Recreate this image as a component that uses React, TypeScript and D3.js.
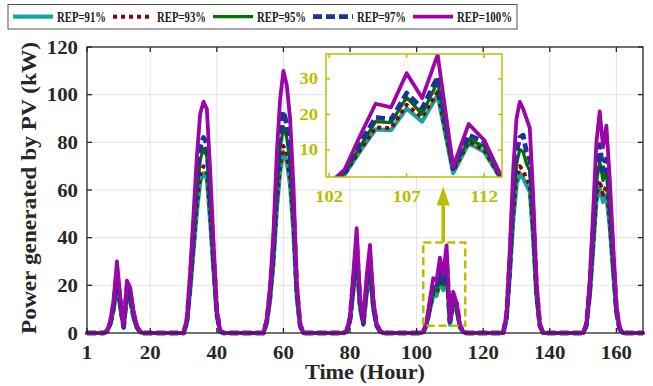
import React from 'react';
import * as d3 from 'd3';

// ---------- data ----------
const HOURS = d3.range(1, 169);
const X_TICKS = [1, 20, 40, 60, 80, 100, 120, 140, 160];
const Y_TICKS = [0, 20, 40, 60, 80, 100, 120];
const INSET_X_TICKS = [102, 107, 112];
const INSET_Y_TICKS = [10, 20, 30];
const SERIES_NAMES = ['REP=91%', 'REP=93%', 'REP=95%', 'REP=97%', 'REP=100%'];

const REP91 = [
  0,0,0,0,0,0,0.7,3.5,9.7,20.7,10.4,2.1,15.2,13.1,6.2,2.1,0.3,0,0,0,0,0,0,0,
  0,0,0,0,0,0,4.1,17.9,34.5,51,63.5,67,64.9,46.9,26.2,6.9,0.7,0,0,0,0,0,0,0,
  0,0,0,0,0,0,4.1,13.8,29,51.8,67.6,76,71.8,62.1,42.8,15.2,2.8,0,0,0,0,0,0,0,
  0,0,0,0,0,0,0.7,4.8,17.3,30.4,10.4,3.5,16.6,25.5,9.7,2.8,0.7,0,0,0,0,0,0,0,
  0,0,0,0,0,0.3,3.1,9.7,15.8,15.6,21.7,18,25.5,3.5,11.9,9.5,2.4,0.3,0,0,0,0,0,0,
  0,0,0,0,0,0,5.5,24.2,46.9,62.1,67,65,62.1,59.3,40,15.2,2.8,0,0,0,0,0,0,0,
  0,0,0,0,0,0,2.8,15.2,34.5,55.2,61,55,58,44.9,26.2,8.3,1.4,0,0,0,0,0,0,0,
];
const REP93 = [
  0,0,0,0,0,0,0.7,3.6,10,21.6,10.8,2.2,15.8,13.7,6.5,2.2,0.4,0,0,0,0,0,0,0,
  0,0,0,0,0,0,4.3,18.7,36,53.3,66.2,70,67.7,49,27.4,7.2,0.7,0,0,0,0,0,0,0,
  0,0,0,0,0,0,4.3,14.4,30.2,54,70.6,78.5,74.9,64.8,44.6,15.8,2.9,0,0,0,0,0,0,0,
  0,0,0,0,0,0,0.7,5,18,31.7,10.8,3.6,17.3,26.6,10,2.9,0.7,0,0,0,0,0,0,0,
  0,0,0,0,0,0.4,3.2,10,16.4,16.1,22.7,19.2,26.4,4,12.3,10,2.5,0.4,0,0,0,0,0,0,
  0,0,0,0,0,0,5.8,25.2,49,64.8,70,68,64.8,62,41.8,15.8,2.9,0,0,0,0,0,0,0,
  0,0,0,0,0,0,2.9,15.8,36,57.6,64,58,62,46.8,27.4,8.6,1.4,0,0,0,0,0,0,0,
];
const REP95 = [
  0,0,0,0,0,0,0.8,4,11,23.7,11.9,2.4,17.4,15,7.1,2.4,0.4,0,0,0,0,0,0,0,
  0,0,0,0,0,0,4.7,20.5,39.5,58.5,72.7,77.5,74,53.7,30,7.9,0.8,0,0,0,0,0,0,0,
  0,0,0,0,0,0,4.7,15.8,33,59,77.4,86.5,82,71,49,17.4,3.2,0,0,0,0,0,0,0,
  0,0,0,0,0,0,0.8,5.5,19.8,34.8,11.9,4,19,29.2,11,3.2,0.8,0,0,0,0,0,0,0,
  0,0,0,0,0,0.4,3.5,11,18,17.7,24.8,20.1,29.2,4.5,13,11,2.8,0.4,0,0,0,0,0,0,
  0,0,0,0,0,0,6.3,27.7,53.7,71,77,76,71,68,45.8,17.4,3.2,0,0,0,0,0,0,0,
  0,0,0,0,0,0,3.2,17.4,39.5,63,72,64,68,51,30,9.5,1.6,0,0,0,0,0,0,0,
];
const REP97 = [
  0,0,0,0,0,0,0.8,4.2,11.8,25,12.7,2.5,18.6,16,7.6,2.5,0.4,0,0,0,0,0,0,0,
  0,0,0,0,0,0,5,22,42,62.5,78,82,79.5,57.5,32,8.5,0.8,0,0,0,0,0,0,0,
  0,0,0,0,0,0,5,17,35.5,63.4,83,93,88,76,52.4,18.6,3.4,0,0,0,0,0,0,0,
  0,0,0,0,0,0,0.8,6,21,37,12.7,4.2,20,31,11.8,3.4,0.8,0,0,0,0,0,0,0,
  0,0,0,0,0,0.4,3.8,11.8,19.2,18.6,26,21.7,30.6,4.8,14.2,12.3,3,0.4,0,0,0,0,0,0,
  0,0,0,0,0,0,6.8,29.6,57.5,76,82,83,76,72.7,49,18.6,3.4,0,0,0,0,0,0,0,
  0,0,0,0,0,0,3.4,18.6,42,67.6,79,68,73,55,32,10,1.7,0,0,0,0,0,0,0,
];
const REP100 = [
  0,0,0,0,0,0,1,5,14,30,15,3,22,19,9,3,0.5,0,0,0,0,0,0,0,
  0,0,0,0,0,0,6,26,50,74,92,97,94,68,38,10,1,0,0,0,0,0,0,0,
  0,0,0,0,0,0,6,20,42,75,98,110,104,90,62,22,4,0,0,0,0,0,0,0,
  0,0,0,0,0,0,1,7,25,44,15,5,24,37,14,4,1,0,0,0,0,0,0,0,
  0,0,0,0,0,0.5,4.5,14,23,22,31.6,24.6,36.8,5.3,17.3,12.8,3.5,0.5,0,0,0,0,0,0,
  0,0,0,0,0,0,8,35,68,90,97,94,90,86,58,22,4,0,0,0,0,0,0,0,
  0,0,0,0,0,0,4,22,50,80,93,78,87,65,38,12,2,0,0,0,0,0,0,0,
];
const SERIES_VALUES = [REP91, REP93, REP95, REP97, REP100];

// ---------- styles ----------
const STYLES = [
  { color: '#17a3a3', width: 4.2, dash: null },
  { color: '#8b0000', width: 3.8, dash: '4 4' },
  { color: '#006f00', width: 3.2, dash: null },
  { color: '#1b3593', width: 4.8, dash: '9 4' },
  { color: '#9c06a9', width: 3.8, dash: null },
];
const FONT = "'Liberation Serif','Times New Roman',serif";
const YEL = '#bdbd00';

const W = 653, H = 386;
const L = 87, R = 643, T = 47, B = 333;
const IL = 326, IR = 502, IT = 54, IB = 177;

export default function App() {
  const x = d3.scaleLinear().domain([1, 168]).range([L, R]);
  const y = d3.scaleLinear().domain([0, 120]).range([B, T]);
  const xi = d3.scaleLinear().domain([101.8, 113.15]).range([IL, IR]);
  const yi = d3.scaleLinear().domain([2.4, 37]).range([IB, IT]);

  const mainLine = d3.line<number>().x((_, i) => x(HOURS[i])).y(d => y(d));
  const insetLine = d3.line<number>().x((_, i) => xi(HOURS[i])).y(d => yi(d));

  const arrowX = x(108);
  const arrowTip = y(61.5);
  const arrowBase = arrowTip + 19;

  return (
    <svg width={W} height={H} style={{ position: 'absolute', left: 0, top: 0, background: '#fff' }}
      fontFamily={FONT} fontWeight="bold">
      <defs>
        <clipPath id="insetClip"><rect x={IL} y={IT} width={IR - IL} height={IB - IT} /></clipPath>
      </defs>
      <rect x={0} y={0} width={W} height={H} fill="#fff" />
      {/* grid */}
      <g stroke="#e3e3e3" strokeWidth={1}>
        {X_TICKS.slice(1).map(t => <line key={'gx' + t} x1={x(t)} x2={x(t)} y1={T} y2={B} />)}
        {Y_TICKS.slice(1, -1).map(t => <line key={'gy' + t} x1={L} x2={R} y1={y(t)} y2={y(t)} />)}
      </g>
      {/* series */}
      {SERIES_VALUES.map((vals, i) => (
        <path key={'s' + i} d={mainLine(vals) || ''} fill="none" stroke={STYLES[i].color}
          strokeWidth={STYLES[i].width} strokeDasharray={STYLES[i].dash || undefined}
          strokeLinejoin="round" strokeLinecap={STYLES[i].dash ? 'butt' : 'round'} />
      ))}
      {/* frame and ticks */}
      <g stroke="#262626" strokeWidth={1.3} fill="none">
        <rect x={L} y={T} width={R - L} height={B - T} />
        {X_TICKS.map(t => <g key={'tx' + t}>
          <line x1={x(t)} x2={x(t)} y1={B} y2={B - 5} />
          <line x1={x(t)} x2={x(t)} y1={T} y2={T + 5} />
        </g>)}
        {Y_TICKS.map(t => <g key={'ty' + t}>
          <line x1={L} x2={L + 5} y1={y(t)} y2={y(t)} />
          <line x1={R} x2={R - 5} y1={y(t)} y2={y(t)} />
        </g>)}
      </g>
      {/* tick labels */}
      <g fill="#262626" fontSize={19}>
        {X_TICKS.map(t => (
          <text key={'lx' + t} x={x(t)} y={359} textAnchor="middle"
            textLength={String(t).length * 10.4} lengthAdjust="spacingAndGlyphs">{t}</text>
        ))}
        {Y_TICKS.map(t => (
          <text key={'ly' + t} x={78} y={y(t) + 6.5} textAnchor="end"
            textLength={String(t).length * 10.4} lengthAdjust="spacingAndGlyphs">{t}</text>
        ))}
      </g>
      <text x={(L + R) / 2} y={379} textAnchor="middle" fontSize={20} fill="#262626"
        textLength={120} lengthAdjust="spacingAndGlyphs">Time (Hour)</text>
      <text transform={`translate(36,${188}) rotate(-90)`} textAnchor="middle" fontSize={21} fill="#262626"
        textLength={292} lengthAdjust="spacingAndGlyphs">Power generated by PV (kW)</text>

      {/* zoom box & arrow */}
      <rect x={x(102)} y={y(38)} width={x(114.6) - x(102)} height={y(3) - y(38)}
        fill="none" stroke={YEL} strokeWidth={2.5} strokeDasharray="8 4" />
      <line x1={arrowX} x2={arrowX} y1={y(38)} y2={arrowBase} stroke={YEL} strokeWidth={3.5} />
      <path d={`M${arrowX},${arrowTip} L${arrowX - 6.5},${arrowBase} L${arrowX + 6.5},${arrowBase} Z`} fill={YEL} />

      {/* inset */}
      <rect x={IL} y={IT} width={IR - IL} height={IB - IT} fill="#fff" />
      <g clipPath="url(#insetClip)">
        {SERIES_VALUES.map((vals, i) => (
          <path key={'is' + i} d={insetLine(vals) || ''} fill="none" stroke={STYLES[i].color}
            strokeWidth={STYLES[i].width} strokeDasharray={STYLES[i].dash || undefined}
            strokeLinejoin="round" strokeLinecap={STYLES[i].dash ? 'butt' : 'round'} />
        ))}
      </g>
      <g stroke={YEL} strokeWidth={1.5} fill="none">
        <rect x={IL} y={IT} width={IR - IL} height={IB - IT} />
        {INSET_X_TICKS.map(t => <g key={'itx' + t}>
          <line x1={xi(t)} x2={xi(t)} y1={IB} y2={IB - 4} />
          <line x1={xi(t)} x2={xi(t)} y1={IT} y2={IT + 4} />
        </g>)}
        {INSET_Y_TICKS.map(t => <g key={'ity' + t}>
          <line x1={IL} x2={IL + 4} y1={yi(t)} y2={yi(t)} />
          <line x1={IR} x2={IR - 4} y1={yi(t)} y2={yi(t)} />
        </g>)}
      </g>
      <g fill={YEL} fontSize={17}>
        {INSET_X_TICKS.map(t => (
          <text key={'ilx' + t} x={xi(t)} y={202} textAnchor="middle"
            textLength={String(t).length * 9.3} lengthAdjust="spacingAndGlyphs">{t}</text>
        ))}
        {INSET_Y_TICKS.map(t => (
          <text key={'ily' + t} x={318} y={yi(t) + 5.5} textAnchor="end"
            textLength={String(t).length * 9.3} lengthAdjust="spacingAndGlyphs">{t}</text>
        ))}
      </g>

      {/* legend */}
      <rect x={8} y={4.5} width={509} height={24.5} fill="#fff" stroke="#555" strokeWidth={1} />
      {SERIES_NAMES.map((name, i) => (
        <g key={'lg' + i}>
          <line x1={13 + 100 * i} x2={53 + 100 * i} y1={16.7} y2={16.7} stroke={STYLES[i].color}
            strokeWidth={i === 1 ? 4 : STYLES[i].width} strokeDasharray={STYLES[i].dash || undefined} />
          <text x={57 + 100 * i} y={21.5} fontSize={14.5} fill="#222"
            textLength={name.length === 8 ? 55 : 49} lengthAdjust="spacingAndGlyphs">{name}</text>
        </g>
      ))}
    </svg>
  );
}
